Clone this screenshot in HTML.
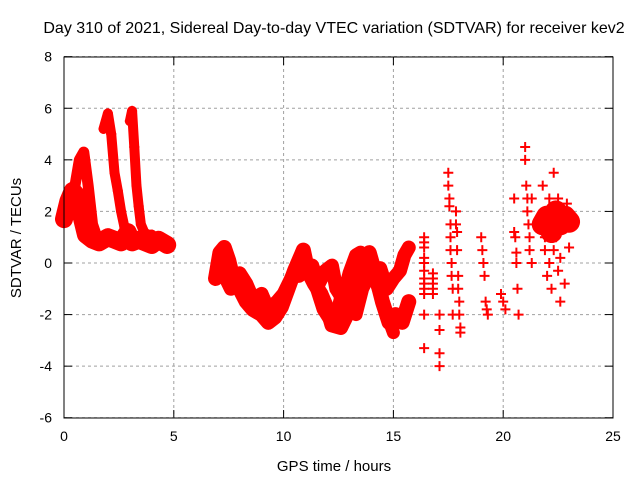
<!DOCTYPE html>
<html><head><meta charset="utf-8"><style>
body{margin:0;background:#fff}
svg{display:block;font-family:"Liberation Sans",sans-serif}
</style></head><body>
<svg id="c" width="640" height="480" viewBox="0 0 640 480">
<rect width="640" height="480" fill="#fff"/>
<text x="334" y="33" font-size="16" text-anchor="middle">Day 310 of 2021, Sidereal Day-to-day VTEC variation (SDTVAR) for receiver kev2</text>
<text x="334" y="471" font-size="15" text-anchor="middle">GPS time / hours</text>
<text transform="translate(21,238) rotate(-90)" font-size="15" text-anchor="middle">SDTVAR / TECUs</text>
<g id="grid"></g><g id="marks"></g>
<rect x="64" y="57" width="549" height="361" fill="none" stroke="#000" stroke-width="1"/>
</svg>
<script>
const xTicks=[0,5,10,15,20,25];
const yTicks=[-6,-4,-2,0,2,4,6,8];
const trackA_t=[0,0.2,0.4,0.6,0.8,1.0,1.3,1.6,2.0,2.3,2.6,2.9,3.1,3.4,3.7,4.0,4.3,4.7];
const trackA_v=[1.7,2.4,2.8,2.6,1.8,1.1,0.9,0.8,1.0,0.9,0.8,1.2,0.8,0.9,0.8,0.7,0.9,0.7];
const trackB_t=[0.3,0.5,0.7,0.9,1.1,1.3,1.5];
const trackB_v=[2.0,3.0,4.0,4.3,3.0,1.5,1.0];
const trackC_t=[1.8,2.0,2.15,2.3,2.45,2.6,2.75,2.9,3.2];
const trackC_v=[5.2,5.8,5.0,3.5,2.8,2.0,1.4,1.0,0.8];
const trackD_t=[3.0,3.1,3.2,3.3,3.4,3.5,3.65,3.8,4.0,4.2,4.5];
const trackD_v=[5.5,5.9,4.5,3.0,2.2,1.5,1.2,1.1,1.1,0.9,0.7];
const trackE_t=[6.9,7.1,7.3,7.5,7.7,8.0,8.3,8.6,9.0,9.3,9.6,9.9,10.2,10.5,10.8,10.9,11.1,11.4,11.7,12.0,12.2,12.6,13.0,13.3,13.6,13.9,14.2,14.5,14.8,15.1,15.4,15.7];
const trackE_v=[-0.6,0.4,0.6,0.1,-0.6,-1.0,-1.5,-1.8,-2.0,-2.3,-2.1,-1.7,-1.0,-0.3,0.3,0.5,-0.3,-0.8,-1.2,-1.8,-2.4,-2.5,-1.8,-1.0,0.1,0.4,-0.5,-1.5,-2.3,-2.0,-2.3,-1.5];
const trackF_t=[7.2,7.6,8.0,8.3,8.6,9.0,9.3,9.7,10.0,10.4,10.7,11.0,11.3,11.6,11.9,12.2,12.4,12.7,13.0,13.3,13.5,13.8,14.1,14.4,14.7,15.0,15.3,15.5,15.7];
const trackF_v=[-0.3,-1.0,-0.4,-0.8,-1.4,-1.2,-1.8,-1.5,-1.2,-0.5,-0.5,-0.3,-0.1,-0.8,-0.3,-0.1,-1.0,-1.4,-0.4,0.3,0.4,0.1,-0.4,-0.2,-1.0,-0.6,-0.3,0.3,0.6];
const trackG_t=[11.5,11.8,12.1,12.4,12.7,13.0,13.3,13.6,14.0,14.4,14.7,15.0];
const trackG_v=[-1.0,-1.8,-2.2,-2.0,-1.0,-1.5,-2.0,-1.0,-0.3,-1.2,-2.0,-2.7];
const trackH_t=[21.8,22.0,22.2,22.4,22.6,22.8,23.0];
const trackH_v=[1.5,1.8,1.2,2.0,1.5,1.8,1.6];
const scatterT=[16.4,16.4,16.4,16.4,16.4,16.4,16.4,16.4,16.4,16.4,16.4,16.4,16.8,16.8,16.8,16.8,16.8,17.1,17.1,17.1,17.1,
17.5,17.5,17.55,17.55,17.6,17.6,17.6,17.65,17.65,17.7,17.7,17.85,17.85,17.9,17.9,17.95,17.95,18.0,18.0,18.05,18.05,
19.0,19.05,19.1,19.15,19.2,19.25,19.3,19.9,20.0,20.1,20.5,20.5,20.55,20.6,20.6,20.65,20.7,
21.0,21.0,21.05,21.1,21.1,21.15,21.2,21.2,21.3,21.3,
21.8,21.9,21.9,22.0,22.0,22.1,22.1,22.2,22.2,22.3,22.3,22.4,22.5,22.5,22.6,22.6,22.7,22.8,22.8,22.9,23.0,23.0];
const scatterV=[1.0,0.8,0.6,0.2,0,-0.3,-0.6,-0.8,-1.0,-1.2,-2.0,-3.3,-0.6,-0.8,-1.0,-1.2,-0.4,-3.5,-4.0,-2.6,-2.0,
3.5,3.0,2.5,2.2,1.5,1.0,0.5,0,-0.5,-1.0,-2.0,2.0,1.5,1.2,0.5,-0.5,-1.0,-1.5,-2.0,-2.5,-2.7,
1.0,0.5,0,-0.5,-1.5,-1.8,-2.0,-1.2,-1.5,-1.8,2.5,1.2,1.0,0.4,0,-1.0,-2.0,
4.5,4.0,3.0,2.5,2.0,1.5,1.0,0.5,0,
2.5,3.0,0.5,1.0,-0.5,2.0,0,2.5,-1.0,1.5,0.5,3.5,1.0,-0.3,2.5,0.2,-1.5,2.0,-0.8,1.5,2.3,0.6];
const X=t=>64+t*21.96, Y=v=>263-v*25.79;
const NS='http://www.w3.org/2000/svg';
const grid=document.getElementById('grid'), marks=document.getElementById('marks');
function mk(tag,attrs,parent){const e=document.createElementNS(NS,tag);for(const k in attrs)e.setAttribute(k,attrs[k]);parent.appendChild(e);return e;}
xTicks.forEach(t=>{
  const l=mk('line',{x1:X(t),x2:X(t),y1:57,y2:418,stroke:'#a0a0a0','stroke-dasharray':'3,3'},grid);
  
  
  mk('line',{x1:X(t),x2:X(t),y1:418,y2:410,stroke:'#000'},grid);
  mk('line',{x1:X(t),x2:X(t),y1:57,y2:65,stroke:'#000'},grid);
  const tx=mk('text',{x:X(t),y:441,'font-size':14,'text-anchor':'middle'},grid);tx.textContent=t;
  
  
});
yTicks.forEach(v=>{
  const l=mk('line',{x1:64,x2:613,y1:Y(v),y2:Y(v),stroke:'#a0a0a0','stroke-dasharray':'3,3'},grid);
  
  
  mk('line',{x1:64,x2:72,y1:Y(v),y2:Y(v),stroke:'#000'},grid);
  mk('line',{x1:605,x2:613,y1:Y(v),y2:Y(v),stroke:'#000'},grid);
  const tx=mk('text',{x:52,y:Y(v)+5,'font-size':14,'text-anchor':'end'},grid);tx.textContent=v;
  
  
});
function plus(t,v){
  const p=mk('path',{d:`M${X(t)-5},${Y(v)}h10M${X(t)},${Y(v)-5}v10`,stroke:'#f00','stroke-width':2},marks);
  
  
}
[[trackA_t,trackA_v,18],[trackB_t,trackB_v,11],[trackC_t,trackC_v,10],[trackD_t,trackD_v,10],[trackE_t,trackE_v,15],[trackF_t,trackF_v,14],[trackG_t,trackG_v,13],[trackH_t,trackH_v,22]].forEach(([T,V,w])=>{
  const pl=mk('polyline',{points:T.map((t,i)=>X(t)+','+Y(V[i])).join(' '),fill:'none',stroke:'#f00','stroke-width':w,'stroke-linejoin':'round','stroke-linecap':'round'},marks);
  
  
  T.forEach((t,i)=>plus(t,V[i]));
});
scatterT.forEach((t,i)=>plus(t,scatterV[i]));
</script>
</body></html>
